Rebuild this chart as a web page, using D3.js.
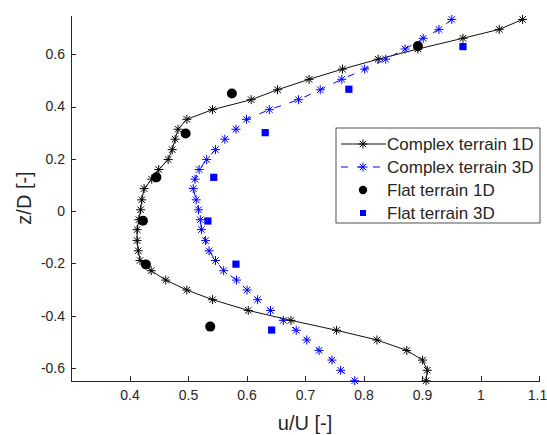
<!DOCTYPE html>
<html>
<head>
<meta charset="utf-8">
<script src="https://cdn.jsdelivr.net/npm/d3@7"></script>
<style>
  body { margin: 0; background: #fff; }
  text { font-family: "Liberation Sans", Arial, Helvetica, sans-serif; }
</style>
</head>
<body>
<div id="vis"></div>
<script>
// heights z/D shared by both complex terrain profiles
const Z_LEVELS = [0.733, 0.695, 0.661, 0.620, 0.581, 0.543, 0.504, 0.464, 0.426, 0.388,
                  0.351, 0.313, 0.275, 0.235, 0.197, 0.159, 0.122, 0.086, 0.043, 0.005,
                  -0.033, -0.071, -0.113, -0.152, -0.189, -0.228, -0.264, -0.302, -0.339, -0.380,
                  -0.418, -0.456, -0.493, -0.533, -0.570, -0.609, -0.649];
const COMPLEX_1D = [1.072, 1.032, 0.970, 0.893, 0.825, 0.764, 0.707, 0.653, 0.608, 0.542,
                    0.498, 0.483, 0.478, 0.473, 0.466, 0.450, 0.438, 0.425, 0.421, 0.419,
                    0.416, 0.413, 0.413, 0.415, 0.418, 0.437, 0.462, 0.498, 0.542, 0.603,
                    0.676, 0.754, 0.823, 0.874, 0.901, 0.909, 0.907];
const COMPLEX_3D = [0.951, 0.929, 0.902, 0.871, 0.838, 0.802, 0.763, 0.726, 0.689, 0.639,
                    0.600, 0.582, 0.563, 0.547, 0.532, 0.519, 0.512, 0.509, 0.514, 0.518,
                    0.521, 0.523, 0.530, 0.536, 0.547, 0.561, 0.583, 0.601, 0.619, 0.641,
                    0.663, 0.685, 0.703, 0.724, 0.746, 0.761, 0.785];

const FLAT_1D_Z = [0.631, 0.450, 0.297, 0.129, -0.037, -0.204, -0.442];
const FLAT_1D = [0.893, 0.575, 0.496, 0.446, 0.423, 0.428, 0.538];
const FLAT_3D_Z = [0.629, 0.466, 0.300, 0.129, -0.038, -0.203, -0.455];
const FLAT_3D = [0.970, 0.775, 0.632, 0.544, 0.534, 0.582, 0.643];

const X_TICKS = [0.4, 0.5, 0.6, 0.7, 0.8, 0.9, 1.0, 1.1];
const X_TICK_LABELS = ["0.4", "0.5", "0.6", "0.7", "0.8", "0.9", "1", "1.1"];
const Y_TICKS = [-0.6, -0.4, -0.2, 0, 0.2, 0.4, 0.6];
const Y_TICK_LABELS = ["-0.6", "-0.4", "-0.2", "0", "0.2", "0.4", "0.6"];
const SERIES_NAMES = ["Complex terrain 1D", "Complex terrain 3D", "Flat terrain 1D", "Flat terrain 3D"];

const FRAME_WIDTH = 547;
const FRAME_HEIGHT = 435;
const MARGINS = {left: 71, right: 8, top: 15, bottom: 54};
const VIS_WIDTH = FRAME_WIDTH - MARGINS.left - MARGINS.right;
const VIS_HEIGHT = FRAME_HEIGHT - MARGINS.top - MARGINS.bottom;
const AXIS_COLOR = "#262626";

const FRAME = d3.select("#vis")
  .append("svg")
    .attr("width", FRAME_WIDTH)
    .attr("height", FRAME_HEIGHT);

const X_SCALE = d3.scaleLinear().domain([0.3, 1.1]).range([0, VIS_WIDTH]);
const Y_SCALE = d3.scaleLinear().domain([-0.65, 0.75]).range([VIS_HEIGHT, 0]);

const g = FRAME.append("g")
  .attr("transform", "translate(" + MARGINS.left + "," + MARGINS.top + ")");

// axes, ticks point inwards like matlab
const xAxis = g.append("g")
  .attr("transform", "translate(0," + VIS_HEIGHT + ")")
  .call(d3.axisBottom(X_SCALE)
    .tickValues(X_TICKS)
    .tickFormat((d, i) => X_TICK_LABELS[i])
    .tickSizeInner(-5).tickSizeOuter(0).tickPadding(9));

const yAxis = g.append("g")
  .call(d3.axisLeft(Y_SCALE)
    .tickValues(Y_TICKS)
    .tickFormat((d, i) => Y_TICK_LABELS[i])
    .tickSizeInner(-5).tickSizeOuter(0).tickPadding(6));

[xAxis, yAxis].forEach(ax => {
  ax.select(".domain").attr("stroke", AXIS_COLOR).attr("shape-rendering", "crispEdges");
  ax.selectAll(".tick line").attr("stroke", AXIS_COLOR).attr("shape-rendering", "crispEdges");
  ax.selectAll(".tick text")
    .attr("fill", AXIS_COLOR)
    .attr("font-size", "14px")
    .attr("font-family", "'Liberation Sans', Arial, sans-serif");
});

// keep the last x label inside the window
xAxis.selectAll(".tick text").filter((d, i) => i === X_TICKS.length - 1).attr("dx", -2);

// axis titles
g.append("text")
  .attr("x", VIS_WIDTH / 2)
  .attr("y", VIS_HEIGHT + 49)
  .attr("text-anchor", "middle")
  .attr("font-size", "20px")
  .attr("fill", AXIS_COLOR)
  .text("u/U [-]");

g.append("text")
  .attr("transform", "translate(" + (-40) + "," + (VIS_HEIGHT / 2) + ") rotate(-90)")
  .attr("text-anchor", "middle")
  .attr("font-size", "20px")
  .attr("fill", AXIS_COLOR)
  .text("z/D [-]");

// asterisk marker = plus + cross
function asterisk(r) {
  const a = r * 0.72;
  return "M" + (-r) + ",0H" + r + "M0," + (-r) + "V" + r +
         "M" + (-a) + "," + (-a) + "L" + a + "," + a +
         "M" + (-a) + "," + a + "L" + a + "," + (-a);
}

const line = d3.line()
  .x(d => X_SCALE(d[0]))
  .y(d => Y_SCALE(d[1]));

const complex1d = COMPLEX_1D.map((u, i) => [u, Z_LEVELS[i]]);
const complex3d = COMPLEX_3D.map((u, i) => [u, Z_LEVELS[i]]);

// Complex terrain 1D
g.append("path")
  .datum(complex1d)
  .attr("d", line)
  .attr("fill", "none")
  .attr("stroke", "#111")
  .attr("stroke-width", 1);

g.selectAll(".star1")
  .data(complex1d)
  .enter()
  .append("path")
    .attr("class", "star1")
    .attr("transform", d => "translate(" + X_SCALE(d[0]) + "," + Y_SCALE(d[1]) + ")")
    .attr("d", asterisk(4.5))
    .attr("fill", "none")
    .attr("stroke", "#000")
    .attr("stroke-width", 1);

// Complex terrain 3D
g.append("path")
  .datum(complex3d)
  .attr("d", line)
  .attr("fill", "none")
  .attr("stroke", "#0000ff")
  .attr("stroke-width", 1)
  .attr("stroke-dasharray", "7,9");

g.selectAll(".star3")
  .data(complex3d)
  .enter()
  .append("path")
    .attr("class", "star3")
    .attr("transform", d => "translate(" + X_SCALE(d[0]) + "," + Y_SCALE(d[1]) + ")")
    .attr("d", asterisk(4.5))
    .attr("fill", "none")
    .attr("stroke", "#0000ff")
    .attr("stroke-width", 1);

// Flat terrain 1D
g.selectAll(".dot")
  .data(FLAT_1D)
  .enter()
  .append("circle")
    .attr("class", "dot")
    .attr("cx", d => X_SCALE(d))
    .attr("cy", (d, i) => Y_SCALE(FLAT_1D_Z[i]))
    .attr("r", 5)
    .attr("fill", "#000");

// Flat terrain 3D
g.selectAll(".sq")
  .data(FLAT_3D)
  .enter()
  .append("rect")
    .attr("class", "sq")
    .attr("x", d => X_SCALE(d) - 3.6)
    .attr("y", (d, i) => Y_SCALE(FLAT_3D_Z[i]) - 3.6)
    .attr("width", 7.2)
    .attr("height", 7.2)
    .attr("fill", "#0000ff");

// legend
const legend = FRAME.append("g").attr("transform", "translate(336,128)");
legend.append("rect")
  .attr("width", 204)
  .attr("height", 95)
  .attr("fill", "#fff")
  .attr("stroke", AXIS_COLOR)
  .attr("stroke-width", 0.8);

SERIES_NAMES.forEach((name, i) => {
  const y = 16 + i * 23;
  if (i === 0) {
    legend.append("line").attr("x1", 5).attr("x2", 50).attr("y1", y).attr("y2", y)
      .attr("stroke", "#111");
    legend.append("path").attr("transform", "translate(27," + y + ")")
      .attr("d", asterisk(4.5)).attr("stroke", "#000").attr("fill", "none");
  } else if (i === 1) {
    legend.append("line").attr("x1", 5).attr("x2", 50).attr("y1", y).attr("y2", y)
      .attr("stroke", "#0000ff").attr("stroke-dasharray", "7,9");
    legend.append("path").attr("transform", "translate(27," + y + ")")
      .attr("d", asterisk(4.5)).attr("stroke", "#0000ff").attr("fill", "none");
  } else if (i === 2) {
    legend.append("circle").attr("cx", 27).attr("cy", y).attr("r", 4.2).attr("fill", "#000");
  } else {
    legend.append("rect").attr("x", 24).attr("y", y - 3).attr("width", 6).attr("height", 6)
      .attr("fill", "#0000ff");
  }
  legend.append("text")
    .attr("x", 51)
    .attr("y", y)
    .attr("dy", "0.36em")
    .attr("font-size", "17px")
    .attr("fill", AXIS_COLOR)
    .text(name);
});
</script>
</body>
</html>
